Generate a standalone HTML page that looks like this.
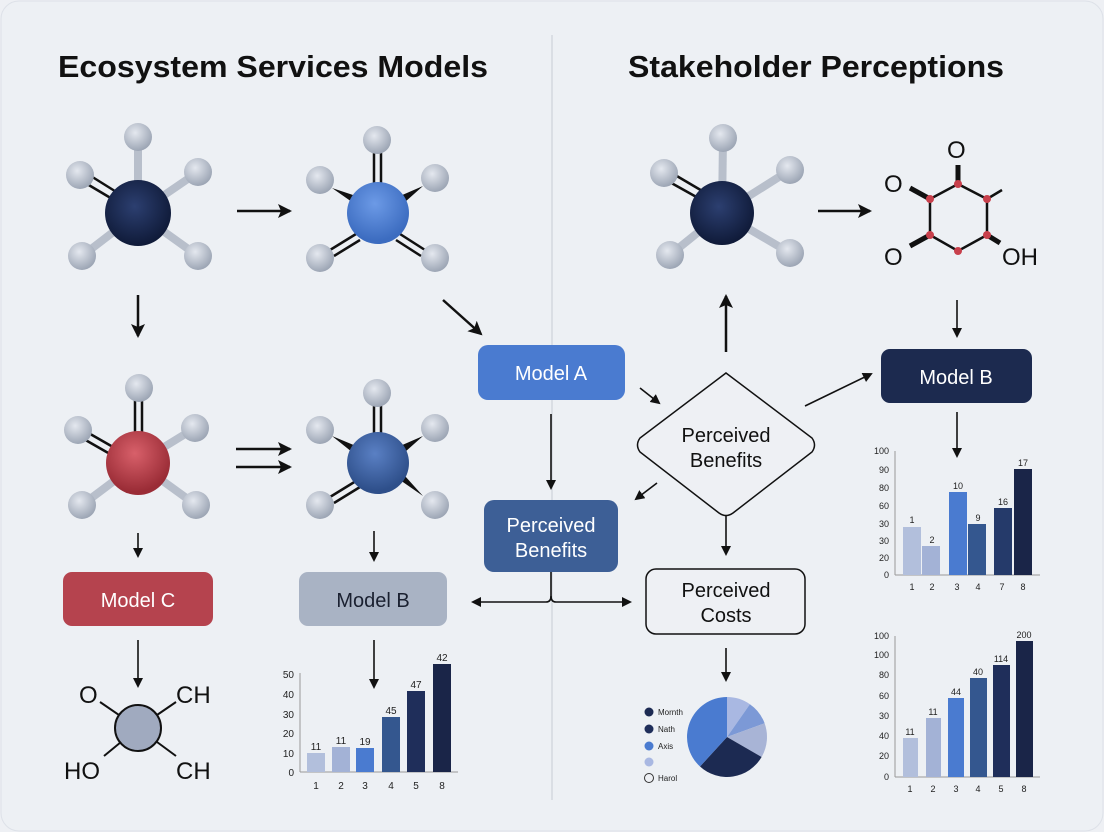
<!DOCTYPE html>
<html><head><meta charset="utf-8"><style>
html,body{margin:0;padding:0;background:#eef0f4;}
svg{display:block;font-family:"Liberation Sans",sans-serif;}
</style></head><body>
<svg width="1104" height="832" viewBox="0 0 1104 832" xmlns="http://www.w3.org/2000/svg">
<defs>
<radialGradient id="atom" cx="40%" cy="35%" r="65%"><stop offset="0" stop-color="#e4e8ef"/><stop offset="1" stop-color="#9da6b5"/></radialGradient>
<radialGradient id="navy" cx="45%" cy="40%" r="60%"><stop offset="0" stop-color="#2c3f70"/><stop offset="1" stop-color="#0f1a38"/></radialGradient>
<radialGradient id="blue" cx="45%" cy="35%" r="60%"><stop offset="0" stop-color="#6c9ae6"/><stop offset="1" stop-color="#3c6cc0"/></radialGradient>
<radialGradient id="blue2" cx="45%" cy="35%" r="60%"><stop offset="0" stop-color="#5a80c4"/><stop offset="1" stop-color="#2e4f8a"/></radialGradient>
<radialGradient id="red" cx="45%" cy="35%" r="60%"><stop offset="0" stop-color="#d8606a"/><stop offset="1" stop-color="#9a2c36"/></radialGradient>
<marker id="ah" markerWidth="10" markerHeight="10" refX="8" refY="5" orient="auto" markerUnits="userSpaceOnUse"><path d="M0,0 L10,5 L0,10 Z" fill="#111"/></marker>
<marker id="ahL" markerWidth="14" markerHeight="14" refX="12" refY="7" orient="auto" markerUnits="userSpaceOnUse"><path d="M0,0 L14,7 L0,14 L3,7 Z" fill="#111"/></marker>
</defs>
<rect x="1" y="1" width="1102" height="830" rx="18" fill="#edf0f4" stroke="#dde1e8"/>
<line x1="552" y1="35" x2="552" y2="800" stroke="#d3d7de" stroke-width="1.5"/>
<text x="58" y="77" font-size="31" fill="#111" font-weight="bold" textLength="430" lengthAdjust="spacingAndGlyphs">Ecosystem Services Models</text>
<text x="628" y="77" font-size="31" fill="#111" font-weight="bold" textLength="376" lengthAdjust="spacingAndGlyphs">Stakeholder Perceptions</text>

<!-- M1 -->
<g stroke="#b8bfcb" stroke-width="8">
<line x1="138" y1="213" x2="138" y2="137"/><line x1="138" y1="213" x2="198" y2="172"/>
<line x1="138" y1="213" x2="82" y2="256"/><line x1="138" y1="213" x2="198" y2="256"/></g>
<g stroke="#111" stroke-width="2.5"><line x1="86" y1="173" x2="118" y2="193"/><line x1="82" y1="181" x2="114" y2="200"/></g>
<circle cx="138" cy="137" r="14" fill="url(#atom)"/><circle cx="80" cy="175" r="14" fill="url(#atom)"/><circle cx="198" cy="172" r="14" fill="url(#atom)"/><circle cx="82" cy="256" r="14" fill="url(#atom)"/><circle cx="198" cy="256" r="14" fill="url(#atom)"/>
<circle cx="138" cy="213" r="33" fill="url(#navy)"/>
<!-- M2 -->
<g stroke="#111" stroke-width="2.5"><line x1="374" y1="152" x2="374" y2="185"/><line x1="381" y1="152" x2="381" y2="185"/>
<line x1="330" y1="250" x2="356" y2="234"/><line x1="334" y1="256" x2="360" y2="240"/>
<line x1="425" y1="250" x2="400" y2="234"/><line x1="421" y1="256" x2="396" y2="240"/></g>
<path d="M332,188 L356,196 L352,202 Z" fill="#111"/><path d="M423,186 L400,196 L405,202 Z" fill="#111"/>
<circle cx="377" cy="140" r="14" fill="url(#atom)"/><circle cx="320" cy="180" r="14" fill="url(#atom)"/><circle cx="435" cy="178" r="14" fill="url(#atom)"/><circle cx="320" cy="258" r="14" fill="url(#atom)"/><circle cx="435" cy="258" r="14" fill="url(#atom)"/>
<circle cx="378" cy="213" r="31" fill="url(#blue)"/>
<!-- M3 -->
<g stroke="#b8bfcb" stroke-width="8">
<line x1="722" y1="213" x2="723" y2="138"/><line x1="722" y1="213" x2="790" y2="170"/>
<line x1="722" y1="213" x2="670" y2="255"/><line x1="722" y1="213" x2="790" y2="253"/></g>
<g stroke="#111" stroke-width="2.5"><line x1="670" y1="172" x2="704" y2="192"/><line x1="666" y1="180" x2="700" y2="199"/></g>
<circle cx="723" cy="138" r="14" fill="url(#atom)"/><circle cx="664" cy="173" r="14" fill="url(#atom)"/><circle cx="790" cy="170" r="14" fill="url(#atom)"/><circle cx="670" cy="255" r="14" fill="url(#atom)"/><circle cx="790" cy="253" r="14" fill="url(#atom)"/>
<circle cx="722" cy="213" r="32" fill="url(#navy)"/>
<!-- hexagon -->
<g stroke="#111" stroke-width="2.5" fill="none">
<path d="M958,184 L987,199 L987,235 L958,251 L930,235 L930,199 Z"/>
<line x1="987" y1="199" x2="1002" y2="190"/></g>
<g stroke="#111" stroke-width="5"><line x1="958" y1="184" x2="958" y2="165"/><line x1="930" y1="199" x2="910" y2="188"/><line x1="930" y1="235" x2="910" y2="246"/><line x1="987" y1="235" x2="1000" y2="243"/></g>
<g fill="#c8404c"><circle cx="958" cy="184" r="4"/><circle cx="987" cy="199" r="4"/><circle cx="987" cy="235" r="4"/><circle cx="958" cy="251" r="4"/><circle cx="930" cy="235" r="4"/><circle cx="930" cy="199" r="4"/></g>
<g font-size="24" fill="#111"><text x="947" y="158">O</text><text x="884" y="192">O</text><text x="884" y="265">O</text><text x="1002" y="265">OH</text></g>
<!-- M4 red -->
<g stroke="#b8bfcb" stroke-width="8">
<line x1="138" y1="463" x2="195" y2="428"/><line x1="138" y1="463" x2="82" y2="505"/><line x1="138" y1="463" x2="196" y2="505"/></g>
<g stroke="#111" stroke-width="2.5"><line x1="135" y1="400" x2="135" y2="435"/><line x1="142" y1="400" x2="142" y2="435"/>
<line x1="85" y1="431" x2="113" y2="447"/><line x1="82" y1="438" x2="110" y2="454"/></g>
<circle cx="139" cy="388" r="14" fill="url(#atom)"/><circle cx="78" cy="430" r="14" fill="url(#atom)"/><circle cx="195" cy="428" r="14" fill="url(#atom)"/><circle cx="82" cy="505" r="14" fill="url(#atom)"/><circle cx="196" cy="505" r="14" fill="url(#atom)"/>
<circle cx="138" cy="463" r="32" fill="url(#red)"/>
<!-- M5 -->
<g stroke="#111" stroke-width="2.5"><line x1="374" y1="405" x2="374" y2="437"/><line x1="381" y1="405" x2="381" y2="437"/>
<line x1="330" y1="497" x2="356" y2="481"/><line x1="334" y1="503" x2="360" y2="487"/></g>
<path d="M332,436 L356,446 L352,452 Z" fill="#111"/><path d="M423,436 L400,446 L405,452 Z" fill="#111"/><path d="M423,496 L400,480 L405,476 Z" fill="#111"/>
<circle cx="377" cy="393" r="14" fill="url(#atom)"/><circle cx="320" cy="430" r="14" fill="url(#atom)"/><circle cx="435" cy="428" r="14" fill="url(#atom)"/><circle cx="320" cy="505" r="14" fill="url(#atom)"/><circle cx="435" cy="505" r="14" fill="url(#atom)"/>
<circle cx="378" cy="463" r="31" fill="url(#blue2)"/>

<!-- arrows -->
<g stroke="#111" stroke-width="2.5" fill="none">
<line x1="237" y1="211" x2="290" y2="211" marker-end="url(#ahL)"/>
<line x1="138" y1="295" x2="138" y2="336" marker-end="url(#ahL)"/>
<line x1="236" y1="449" x2="290" y2="449" marker-end="url(#ahL)"/>
<line x1="236" y1="467" x2="290" y2="467" marker-end="url(#ahL)"/>
<line x1="443" y1="300" x2="481" y2="334" marker-end="url(#ahL)"/>
<line x1="818" y1="211" x2="870" y2="211" marker-end="url(#ahL)"/>
<line x1="726" y1="352" x2="726" y2="296" marker-end="url(#ahL)"/>
</g>
<g stroke="#111" stroke-width="1.6" fill="none">
<line x1="957" y1="300" x2="957" y2="336" marker-end="url(#ah)"/>
<line x1="640" y1="388" x2="659" y2="403" marker-end="url(#ah)"/>
<line x1="551" y1="414" x2="551" y2="488" marker-end="url(#ah)"/>
<line x1="657" y1="483" x2="636" y2="499" marker-end="url(#ah)"/>
<line x1="805" y1="406" x2="871" y2="374" marker-end="url(#ah)"/>
<line x1="726" y1="514" x2="726" y2="554" marker-end="url(#ah)"/>
<path d="M551,572 L551,596 Q551,602 556,602"/><path d="M551,596 Q551,602 546,602"/>
<line x1="546" y1="602" x2="473" y2="602" marker-end="url(#ah)"/>
<line x1="556" y1="602" x2="630" y2="602" marker-end="url(#ah)"/>
<line x1="138" y1="533" x2="138" y2="556" marker-end="url(#ah)"/>
<line x1="138" y1="640" x2="138" y2="686" marker-end="url(#ah)"/>
<line x1="374" y1="531" x2="374" y2="560" marker-end="url(#ah)"/>
<line x1="374" y1="640" x2="374" y2="687" marker-end="url(#ah)"/>
<line x1="957" y1="412" x2="957" y2="456" marker-end="url(#ah)"/>
<line x1="726" y1="648" x2="726" y2="680" marker-end="url(#ah)"/>
</g>

<!-- boxes -->
<rect x="478" y="345" width="147" height="55" rx="10" fill="#4a7bd0"/>
<text x="551" y="380" font-size="20" fill="#fff" text-anchor="middle">Model A</text>
<rect x="881" y="349" width="151" height="54" rx="9" fill="#1c2a4f"/>
<text x="956" y="384" font-size="20" fill="#fff" text-anchor="middle">Model B</text>
<rect x="484" y="500" width="134" height="72" rx="10" fill="#3d5f96"/>
<text x="551" y="532" font-size="20" fill="#fff" text-anchor="middle">Perceived</text>
<text x="551" y="557" font-size="20" fill="#fff" text-anchor="middle">Benefits</text>
<rect x="63" y="572" width="150" height="54" rx="9" fill="#b5434e"/>
<text x="138" y="607" font-size="20" fill="#fff" text-anchor="middle">Model C</text>
<rect x="299" y="572" width="148" height="54" rx="9" fill="#a9b3c4"/>
<text x="373" y="607" font-size="20" fill="#1a2030" text-anchor="middle">Model B</text>
<rect x="646" y="569" width="159" height="65" rx="10" fill="#eef0f4" stroke="#111" stroke-width="1.5"/>
<text x="726" y="597" font-size="20" fill="#111" text-anchor="middle">Perceived</text>
<text x="726" y="622" font-size="20" fill="#111" text-anchor="middle">Costs</text>
<path d="M726,373 L812,438 Q817,445 812,452 L733,513 Q726,518 719,513 L640,452 Q635,445 640,438 Z" fill="#eef0f4" stroke="#111" stroke-width="1.5"/>
<text x="726" y="442" font-size="20" fill="#111" text-anchor="middle">Perceived</text>
<text x="726" y="467" font-size="20" fill="#111" text-anchor="middle">Benefits</text>

<!-- bottom-left molecule -->
<g stroke="#111" stroke-width="2"><line x1="138" y1="728" x2="100" y2="702"/><line x1="138" y1="728" x2="176" y2="702"/><line x1="138" y1="728" x2="104" y2="756"/><line x1="138" y1="728" x2="176" y2="756"/></g>
<circle cx="138" cy="728" r="23" fill="#a0aabf" stroke="#111" stroke-width="2"/>
<g font-size="24" fill="#111"><text x="79" y="703">O</text><text x="176" y="703">CH</text><text x="64" y="779">HO</text><text x="176" y="779">CH</text></g>

<!-- left chart -->
<g font-size="10" fill="#222">
<text x="294" y="678" text-anchor="end">50</text><text x="294" y="698" text-anchor="end">40</text><text x="294" y="718" text-anchor="end">30</text><text x="294" y="737" text-anchor="end">20</text><text x="294" y="757" text-anchor="end">10</text><text x="294" y="776" text-anchor="end">0</text>
<text x="316" y="789" text-anchor="middle">1</text><text x="341" y="789" text-anchor="middle">2</text><text x="365" y="789" text-anchor="middle">3</text><text x="391" y="789" text-anchor="middle">4</text><text x="416" y="789" text-anchor="middle">5</text><text x="442" y="789" text-anchor="middle">8</text>
<text x="316" y="750" text-anchor="middle">11</text><text x="341" y="744" text-anchor="middle">11</text><text x="365" y="745" text-anchor="middle">19</text><text x="391" y="714" text-anchor="middle">45</text><text x="416" y="688" text-anchor="middle">47</text><text x="442" y="661" text-anchor="middle">42</text>
</g>
<line x1="300" y1="673" x2="300" y2="772" stroke="#999"/><line x1="300" y1="772" x2="458" y2="772" stroke="#999"/>
<rect x="307" y="753" width="18" height="19" fill="#b2bfdc"/><rect x="332" y="747" width="18" height="25" fill="#a3b2d6"/><rect x="356" y="748" width="18" height="24" fill="#4a7bd0"/><rect x="382" y="717" width="18" height="55" fill="#34578f"/><rect x="407" y="691" width="18" height="81" fill="#1f2e5a"/><rect x="433" y="664" width="18" height="108" fill="#1a2548"/>

<!-- right top chart -->
<g font-size="9" fill="#222">
<text x="889" y="454" text-anchor="end">100</text><text x="889" y="473" text-anchor="end">90</text><text x="889" y="491" text-anchor="end">80</text><text x="889" y="509" text-anchor="end">60</text><text x="889" y="527" text-anchor="end">30</text><text x="889" y="544" text-anchor="end">30</text><text x="889" y="561" text-anchor="end">20</text><text x="889" y="578" text-anchor="end">0</text>
<text x="912" y="590" text-anchor="middle">1</text><text x="932" y="590" text-anchor="middle">2</text><text x="957" y="590" text-anchor="middle">3</text><text x="978" y="590" text-anchor="middle">4</text><text x="1002" y="590" text-anchor="middle">7</text><text x="1023" y="590" text-anchor="middle">8</text>
<text x="912" y="523" text-anchor="middle">1</text><text x="932" y="543" text-anchor="middle">2</text><text x="958" y="489" text-anchor="middle">10</text><text x="978" y="521" text-anchor="middle">9</text><text x="1003" y="505" text-anchor="middle">16</text><text x="1023" y="466" text-anchor="middle">17</text>
</g>
<line x1="895" y1="451" x2="895" y2="575" stroke="#999"/><line x1="895" y1="575" x2="1040" y2="575" stroke="#999"/>
<rect x="903" y="527" width="18" height="48" fill="#b2bfdc"/><rect x="922" y="546" width="18" height="29" fill="#a3b2d6"/><rect x="949" y="492" width="18" height="83" fill="#4a7bd0"/><rect x="968" y="524" width="18" height="51" fill="#34578f"/><rect x="994" y="508" width="18" height="67" fill="#253a6a"/><rect x="1014" y="469" width="18" height="106" fill="#1a2548"/>

<!-- right bottom chart -->
<g font-size="9" fill="#222">
<text x="889" y="639" text-anchor="end">100</text><text x="889" y="658" text-anchor="end">100</text><text x="889" y="678" text-anchor="end">80</text><text x="889" y="699" text-anchor="end">60</text><text x="889" y="719" text-anchor="end">30</text><text x="889" y="739" text-anchor="end">40</text><text x="889" y="759" text-anchor="end">20</text><text x="889" y="780" text-anchor="end">0</text>
<text x="910" y="792" text-anchor="middle">1</text><text x="933" y="792" text-anchor="middle">2</text><text x="956" y="792" text-anchor="middle">3</text><text x="978" y="792" text-anchor="middle">4</text><text x="1001" y="792" text-anchor="middle">5</text><text x="1024" y="792" text-anchor="middle">8</text>
<text x="910" y="735" text-anchor="middle">11</text><text x="933" y="715" text-anchor="middle">11</text><text x="956" y="695" text-anchor="middle">44</text><text x="978" y="675" text-anchor="middle">40</text><text x="1001" y="662" text-anchor="middle">114</text><text x="1024" y="638" text-anchor="middle">200</text>
</g>
<line x1="895" y1="636" x2="895" y2="777" stroke="#999"/><line x1="895" y1="777" x2="1040" y2="777" stroke="#999"/>
<rect x="903" y="738" width="15" height="39" fill="#b2bfdc"/><rect x="926" y="718" width="15" height="59" fill="#a3b2d6"/><rect x="948" y="698" width="16" height="79" fill="#4a7bd0"/><rect x="970" y="678" width="17" height="99" fill="#34578f"/><rect x="993" y="665" width="17" height="112" fill="#1f2e5a"/><rect x="1016" y="641" width="17" height="136" fill="#1a2548"/>

<!-- pie -->
<g transform="translate(727,737)">
<path d="M0,0 L0,-40 A40,40 0 0 1 22.9,-32.8 Z" fill="#a9b8e2"/>
<path d="M0,0 L22.9,-32.8 A40,40 0 0 1 37.6,-13.7 Z" fill="#7c99d6"/>
<path d="M0,0 L37.6,-13.7 A40,40 0 0 1 34.6,20 Z" fill="#a8b4d6"/>
<path d="M0,0 L34.6,20 A40,40 0 0 1 -27,29.5 Z" fill="#1c2a52"/>
<path d="M0,0 L-27,29.5 A40,40 0 0 1 0,-40 Z" fill="#4a7bd0"/>
</g>
<g font-size="8" fill="#222">
<circle cx="649" cy="712" r="4.5" fill="#1c2a52"/><text x="658" y="715">Mornth</text>
<circle cx="649" cy="729" r="4.5" fill="#1f2e5a"/><text x="658" y="732">Nath</text>
<circle cx="649" cy="746" r="4.5" fill="#4a7bd0"/><text x="658" y="749">Axis</text>
<circle cx="649" cy="762" r="4.5" fill="#a9b8e2"/>
<circle cx="649" cy="778" r="4.5" fill="#eef0f4" stroke="#333"/><text x="658" y="781">Harol</text>
</g>
</svg>
</body></html>
